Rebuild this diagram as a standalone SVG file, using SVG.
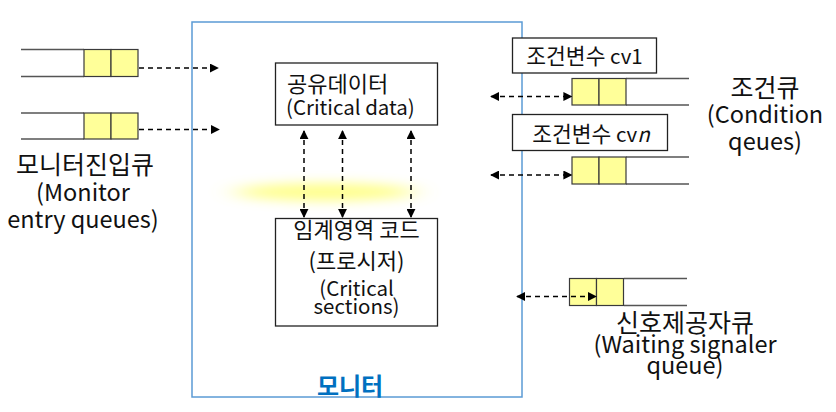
<svg xmlns="http://www.w3.org/2000/svg" width="836" height="412" viewBox="0 0 836 412">
<style>
text{font-family:"Noto Sans CJK KR","Noto Sans",sans-serif;fill:#111}
.box{fill:#fff;stroke:#222;stroke-width:1.3}
.q{fill:#FFFF99;stroke:#3a3a3a;stroke-width:1.2}
.ql{stroke:#555;stroke-width:1.3;fill:none}
.arr{stroke:#000;stroke-width:1.5;stroke-dasharray:5 4;fill:none}
.t20{font-size:20.5px}
.k20{font-size:22px}
.t22{font-size:23.5px}
.k22{font-size:25px}
</style>
<defs>
<marker id="ah" viewBox="0 0 10 10" refX="9" refY="5" markerWidth="9" markerHeight="9" markerUnits="userSpaceOnUse" orient="auto-start-reverse">
<path d="M0,0 L10,5 L0,10 z" fill="#000"/>
</marker>
<filter id="blur" x="-50%" y="-300%" width="200%" height="700%"><feGaussianBlur stdDeviation="14 6"/></filter>
</defs>

<g id="monitor">
<rect x="192" y="22" width="330" height="375" fill="#fff" stroke="#5B9BD5" stroke-width="1.5"/>
<ellipse cx="325" cy="192" rx="90" ry="9" fill="#FFFF66" filter="url(#blur)" opacity="0.75"/>
<text x="350" y="395" text-anchor="middle" font-size="24" font-weight="bold" style="fill:#0070C0">모니터</text>
</g>

<g id="entry-queue-1">
<line class="ql" x1="21" y1="49.5" x2="84" y2="49.5"/>
<line class="ql" x1="21" y1="76.5" x2="84" y2="76.5"/>
<rect class="q" x="84" y="49.5" width="27" height="27"/>
<rect class="q" x="111" y="49.5" width="27" height="27"/>
</g>
<g id="entry-queue-2">
<line class="ql" x1="21" y1="113" x2="84" y2="113"/>
<line class="ql" x1="21" y1="139" x2="84" y2="139"/>
<rect class="q" x="84" y="113" width="27" height="26"/>
<rect class="q" x="111" y="113" width="27" height="26"/>
</g>
<g id="entry-label">
<text class="k22" x="85" y="174" text-anchor="middle">모니터진입큐</text>
<text class="t22" x="83" y="201" text-anchor="middle">(Monitor</text>
<text class="t22" x="83" y="228" text-anchor="middle">entry queues)</text>
</g>

<g id="shared-data">
<rect class="box" x="275.5" y="63" width="162" height="62"/>
<text class="k20" x="287" y="92">공유데이터</text>
<text class="t20" x="286" y="115">(Critical data)</text>
</g>

<g id="critical-section">
<rect class="box" x="275.5" y="218.5" width="162" height="107.5"/>
<text class="k20" x="356.5" y="238" text-anchor="middle">임계영역 코드</text>
<text class="k20" x="356.5" y="269" text-anchor="middle">(프로시저)</text>
<text class="t20" x="356.5" y="296" text-anchor="middle">(Critical</text>
<text class="t20" x="356.5" y="314" text-anchor="middle">sections)</text>
</g>

<g id="cv1">
<rect class="box" x="512.5" y="38" width="144" height="35"/>
<text class="t20" x="584.5" y="64" text-anchor="middle"><tspan font-size="21.5">조건변수</tspan> cv1</text>
</g>
<g id="cond-queue-1">
<line class="ql" x1="626" y1="78.5" x2="689" y2="78.5"/>
<line class="ql" x1="626" y1="105" x2="689" y2="105"/>
<rect class="q" x="572" y="78.5" width="27" height="26.5"/>
<rect class="q" x="599" y="78.5" width="27" height="26.5"/>
</g>
<g id="cvn">
<rect class="box" x="512.5" y="114.5" width="155" height="36"/>
<text class="t20" x="591" y="142" text-anchor="middle"><tspan font-size="21.5">조건변수</tspan> cv<tspan font-style="italic">n</tspan></text>
</g>
<g id="cond-queue-2">
<line class="ql" x1="626" y1="157" x2="689" y2="157"/>
<line class="ql" x1="626" y1="184" x2="689" y2="184"/>
<rect class="q" x="572" y="157" width="27" height="27"/>
<rect class="q" x="599" y="157" width="27" height="27"/>
</g>
<g id="cond-label">
<text class="k22" x="765" y="97" text-anchor="middle">조건큐</text>
<text class="t22" x="765" y="123" text-anchor="middle">(Condition</text>
<text class="t22" x="765" y="150" text-anchor="middle">qeues)</text>
</g>

<g id="signaler-queue">
<line class="ql" x1="624" y1="278.5" x2="687" y2="278.5"/>
<line class="ql" x1="624" y1="305.5" x2="687" y2="305.5"/>
<rect class="q" x="569.5" y="278.5" width="27" height="27"/>
<rect class="q" x="596.5" y="278.5" width="27" height="27"/>
</g>
<g id="signaler-label">
<text class="k22" x="685" y="332" text-anchor="middle">신호제공자큐</text>
<text class="t22" x="685" y="353" text-anchor="middle">(Waiting signaler</text>
<text class="t22" x="685" y="374" text-anchor="middle">queue)</text>
</g>

<g id="connectors">
<line class="arr" x1="139" y1="68" x2="218" y2="68" marker-end="url(#ah)"/>
<line class="arr" x1="139" y1="129.5" x2="219" y2="129.5" marker-end="url(#ah)"/>
<line class="arr" x1="304" y1="131" x2="304" y2="217" marker-start="url(#ah)" marker-end="url(#ah)"/>
<line class="arr" x1="342.5" y1="131" x2="342.5" y2="217" marker-start="url(#ah)" marker-end="url(#ah)"/>
<line class="arr" x1="411" y1="131" x2="411" y2="217" marker-start="url(#ah)" marker-end="url(#ah)"/>
<line class="arr" x1="491" y1="96.5" x2="571.5" y2="96.5" marker-start="url(#ah)" marker-end="url(#ah)"/>
<line class="arr" x1="491" y1="175" x2="571.5" y2="175" marker-start="url(#ah)" marker-end="url(#ah)"/>
<line class="arr" x1="517" y1="296.5" x2="596" y2="296.5" marker-start="url(#ah)" marker-end="url(#ah)"/>
</g>
</svg>
